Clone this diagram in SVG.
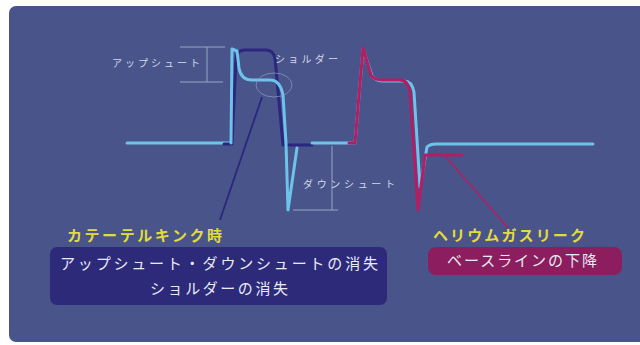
<svg xmlns="http://www.w3.org/2000/svg" width="640" height="345" viewBox="0 0 640 345">
<style>
.lb{fill:none;stroke:#6ec3ea;stroke-width:3;stroke-linejoin:round;stroke-linecap:round}
.nv{fill:none;stroke:#2b2680;stroke-width:3;stroke-linejoin:round;stroke-linecap:round}
.cr{fill:none;stroke:#b51d63;stroke-width:3;stroke-linejoin:round;stroke-linecap:round}
.ms{fill:none;stroke:#9aa3c4;stroke-width:1}
.sm{font-family:"Noto Sans CJK JP","Noto Sans",sans-serif;font-size:10px;fill:#d4d8e8}
.ttl{font-family:"Noto Sans CJK JP","Noto Sans",sans-serif;font-size:15px;font-weight:bold;fill:#e2dc3a}
.bx{font-family:"Noto Sans CJK JP","Noto Sans",sans-serif;font-size:15px;fill:#e8eaf4}
</style>
<rect x="0" y="0" width="640" height="345" fill="#ffffff"/>
<rect x="9" y="6" width="640" height="336" rx="7" fill="#48548a"/>

<g id="connectors">
<line x1="262" y1="97" x2="220" y2="220" stroke="#2b2680" stroke-width="1.8"/>
<line x1="446" y1="157" x2="508" y2="228" stroke="#b51d63" stroke-width="1.5"/>
</g>

<g id="waveform1">
<path class="lb" d="M127,143 H232"/>
<path class="nv" d="M224,144 H232 L236,58 Q237,50 245,50 H266 Q273,50 275,58 L283,145 H312"/>
<path class="lb" d="M231,143 L232,49 L237,51 L239,68 Q241,80 252,80 H270 Q280,80 283,95 L286,143 L288,210 L297,148"/>
<path class="lb" d="M312,143 H348"/>
</g>

<g id="waveform2">
<path class="lb" d="M349,143 H355 L363,49 L372,76 Q376,81 384,81 H404 Q412,81 414,92 L420,187 L427,147 Q430,144 436,144 H593"/>
<path class="cr" d="M349,143 H355 L363,48 L371,75 Q374,80 382,80 H400 Q408,80 410,92 L418,210 L425,155 H462"/>
</g>

<g id="upshoot">
<path class="ms" d="M180,47 H225 M180,82 H223 M207,47 V82"/>
<text class="sm" x="112" y="67" textLength="88" lengthAdjust="spacing">アップシュート</text>
</g>

<g id="shoulder">
<ellipse cx="274" cy="85" rx="18" ry="12" fill="none" stroke="#9aa3c4" stroke-width="0.8" opacity="0.8"/>
<text class="sm" x="275" y="63" textLength="63" lengthAdjust="spacing">ショルダー</text>
</g>

<g id="downshoot">
<path class="ms" d="M332,146 V210 M293,210 H338"/>
<text class="sm" x="303" y="188" textLength="92" lengthAdjust="spacing">ダウンシュート</text>
</g>

<g id="kink">
<text class="ttl" x="67" y="241" textLength="155" lengthAdjust="spacing">カテーテルキンク時</text>
<rect x="50" y="247" width="337" height="58" rx="7" fill="#2d2a7a"/>
<text class="bx" x="60" y="269" textLength="318" lengthAdjust="spacing">アップシュート・ダウンシュートの消失</text>
<text class="bx" x="150" y="294" textLength="138" lengthAdjust="spacing">ショルダーの消失</text>
</g>

<g id="leak">
<text class="ttl" x="433" y="241" textLength="152" lengthAdjust="spacing">ヘリウムガスリーク</text>
<rect x="428" y="247" width="194" height="28" rx="8" fill="#8c1d5e"/>
<text class="bx" x="447" y="266" textLength="150" lengthAdjust="spacing">ベースラインの下降</text>
</g>
</svg>
